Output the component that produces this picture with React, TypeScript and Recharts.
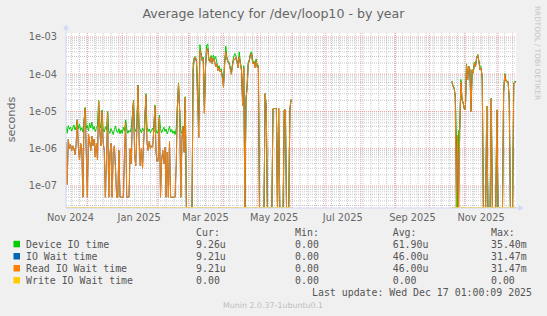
import { LineChart, Line, XAxis, YAxis, CartesianGrid } from 'recharts';

// day 0 = Tue 12 Nov 2024, the left edge of the 400 day window
const seg1Start = 0;
const seg2Start = 343;
const totalDays = 400;

// values in microseconds, one per day
const deviceIo1 = [
  4.0, 2.6, 4.2, 3.3, 3.8, 3.0, 3.6, 4.4, 3.2, 3.9,
  6.0, 3.4, 4.5, 3.1, 3.7, 2.8, 5.5, 13, 3.5, 4.2,
  3.0, 4.8, 3.6, 5.2, 3.3, 4.0, 2.9, 3.5, 4.3, 20,
  5.0, 3.6, 11, 3.4, 2.8, 3.9, 3.2, 10, 3.0, 2.6,
  3.5, 2.9, 2.4, 3.3, 4.1, 3.0, 2.7, 3.5, 2.5, 3.2,
  2.6, 3.8, 3.0, 6.0, 3.4, 2.6, 3.1, 2.8, 3.7, 8,
  20, 3.5, 2.9, 4.2, 51, 4.0, 3.2, 2.7, 3.6, 3.0,
  3.3, 30, 3.8, 2.9, 3.4, 2.7, 3.1, 3.6, 2.8, 15,
  3.3, 2.6, 3.0, 8, 3.5, 2.7, 3.2, 3.8, 2.9, 3.4,
  2.5, 3.1, 4.0, 2.8, 3.3, 2.6, 3.0, 2.4, 3.6, 14,
  57, 12, 3.2, 2.6, 4.0, 2.8, 25, 0, 0, 0,
  0, 0, 0, 200, 280, 300, 230, 51, 6, 620,
  380, 260, 290, 14, 170, 610, 650, 260, 230, 320,
  210, 330, 250, 300, 210, 140, 170, 130, 140, 90,
  57, 210, 570, 290, 230, 210, 155, 115, 190, 290,
  360, 310, 230, 170, 400, 210, 140, 20, 170, 0,
  22, 52, 210, 250, 370, 400, 210, 230, 170, 260,
  170, 175, 0, 0, 0, 0, 0, 30, 13, 0,
  0, 0, 0, 0, 12, 12, 12, 12, 0, 12,
  0, 0, 0, 0, 11, 11, 0, 0, 0, 11,
  21,
];

const readWait1 = [
  1.5, 0.11, 1.8, 1.0, 1.3, 0.9, 1.2, 1.0, 0.7, 1.3,
  6.0, 1.1, 0.5, 1.4, 1.0, 0.05, 5.0, 12, 0.8, 0.05,
  2.5, 1.6, 0.9, 2.2, 1.2, 1.8, 0.6, 1.4, 0.5, 19,
  3.0, 1.2, 10, 1.5, 0.9, 0.05, 0.6, 9, 0.05, 0.7,
  1.4, 0.05, 0.8, 1.2, 0.3, 0.05, 0.05, 0.9, 0.05, 0.05,
  0.05, 0.05, 0.8, 5.0, 0.05, 0.05, 0.05, 1.0, 0.4, 7,
  19, 0.7, 0.35, 3.5, 50, 1.5, 0.35, 1.0, 0.3, 1.4,
  5.5, 28, 1.4, 0.9, 1.6, 1.0, 1.2, 1.1, 3.2, 14,
  0.8, 0.45, 0.5, 7, 0.05, 0.5, 0.9, 0.4, 1.1, 0.05,
  0.8, 0.05, 1.6, 0.05, 0.05, 0.05, 0.05, 0.05, 0.4, 13,
  55, 11, 0.05, 1.8, 4.0, 0.8, 24, 0, 0, 0,
  0, 0, 0, 130, 270, 290, 210, 20, 2, 450,
  350, 230, 260, 9, 150, 450, 500, 240, 210, 290,
  190, 270, 230, 160, 190, 125, 150, 115, 125, 80,
  45, 190, 400, 260, 210, 190, 140, 100, 170, 260,
  240, 290, 210, 150, 300, 190, 125, 14, 150, 0,
  20, 45, 190, 230, 350, 350, 190, 210, 150, 230,
  150, 160, 0, 0, 0, 0, 0, 30, 13, 0,
  0, 0, 0, 0, 12, 12, 12, 12, 0, 12,
  0, 0, 0, 0, 11, 11, 0, 0, 0, 11,
  21,
];

const deviceIo2 = [
  66, 48, 44, 26, 2.5, 0, 3.0,
  3.5, 73, 21, 18, 12, 11, 190, 72, 165, 135,
  11, 135, 110, 210, 165, 280, 340, 230, 160, 160,
  75, 0, 0, 0, 14, 0, 0, 0, 23, 0,
  0, 0, 0, 11, 0, 0, 0, 0, 0, 33,
  105, 67, 65, 64, 21, 0, 0, 0, 57, 65,
  62,
];

const readWait2 = [
  63, 47, 42, 25, 0, 2.3, 0,
  3.5, 63, 20, 17, 12, 11, 180, 70, 160, 130,
  10, 130, 107, 200, 160, 270, 330, 220, 130, 145,
  73, 0, 0, 0, 14, 0, 0, 0, 22, 0,
  0, 0, 0, 11, 0, 0, 0, 0, 0, 32,
  100, 65, 63, 63, 20, 0, 0, 0, 55, 62,
  60,
];

const monthStarts = [19, 50, 81, 109, 140, 170, 201, 231, 262, 293, 323, 354, 384];
const labelDays = [4, 65, 124, 185, 246, 308, 369];
const monthLabels = ['Nov 2024', 'Jan 2025', 'Mar 2025', 'May 2025', 'Jul 2025', 'Sep 2025', 'Nov 2025'];
const decades = [1e-7, 1e-6, 1e-5, 1e-4, 1e-3];
const decadeLabels = ['1e-07', '1e-06', '1e-05', '1e-04', '1e-03'];

const legendNames = ['Device IO time', 'IO Wait time', 'Read IO Wait time', 'Write IO Wait time'];
const legendColors = ['#00CC00', '#0066B3', '#FF8000', '#FFCC00'];
const curValues = ['  9.26u', '  9.21u', '  9.21u', '  0.00 '];
const minValues = ['  0.00 ', '  0.00 ', '  0.00 ', '  0.00 '];
const avgValues = [' 61.90u', ' 46.00u', ' 46.00u', '  0.00 '];
const maxValues = [' 35.40m', ' 31.47m', ' 31.47m', '  0.00 '];

const Y_MIN = 2.57e-8;
const Y_MAX = 1.28e-3;
const ZERO_AT = 2.65e-8; // zero drawn on the floor of the log axis

const toSec = (us: number | null) => (us === null ? null : us === 0 ? ZERO_AT : us * 1e-6);

const rows: any[] = [];
for (let d = 0; d <= totalDays; d++) {
  let dev: number | null = null;
  let rd: number | null = null;
  if (d >= seg1Start && d - seg1Start < deviceIo1.length) {
    dev = deviceIo1[d - seg1Start];
    rd = readWait1[d - seg1Start];
  } else if (d >= seg2Start && d - seg2Start < deviceIo2.length) {
    dev = deviceIo2[d - seg2Start];
    rd = readWait2[d - seg2Start];
  }
  rows.push({
    day: d,
    device: toSec(dev),
    iowait: toSec(rd),
    read: toSec(rd),
    write: dev === null ? null : ZERO_AT,
  });
}

const weekLines: number[] = [];
for (let d = 5; d <= totalDays; d += 7) weekLines.push(d);
const minorY: number[] = [];
for (let e = -8; e <= -3; e++) {
  for (let m = 2; m <= 9; m++) {
    const v = m * Math.pow(10, e);
    if (v > Y_MIN && v < Y_MAX) minorY.push(v);
  }
}

const SANS = 'DejaVu Sans, sans-serif';
const MONO = 'DejaVu Sans Mono, monospace';
const FONT_C = '#666666';
const AXIS_C = '#CFD6F8';

const rowY = [244.3, 256.5, 268.5, 280.5];

export default function App() {
  return (
    <div style={{ position: 'absolute', left: 0, top: 0, width: 547, height: 316, background: '#F0F0F0' }}>
      <LineChart
        width={547}
        height={316}
        data={rows}
        margin={{ top: 33, right: 31, bottom: 88, left: 0 }}
      >
        <CartesianGrid
          fill="#FFFFFF"
          stroke="#C8C8C8"
          strokeDasharray="1 1"
          horizontalValues={minorY}
          verticalValues={weekLines}
        />
        <CartesianGrid
          stroke="#F0A0A0"
          strokeDasharray="1 1"
          horizontalValues={decades}
          verticalValues={monthStarts}
        />
        <XAxis
          dataKey="day"
          type="number"
          domain={[0, totalDays]}
          allowDataOverflow
          ticks={labelDays}
          tickFormatter={(v: number) => monthLabels[labelDays.indexOf(v)] ?? ''}
          tickLine={false}
          tickSize={4}
          tickMargin={2.5}
          height={20}
          axisLine={{ stroke: AXIS_C }}
          tick={{ fill: FONT_C, fontSize: 9.8, fontFamily: SANS }}
          interval={0}
        />
        <YAxis
          scale="log"
          type="number"
          domain={[Y_MIN, Y_MAX]}
          allowDataOverflow
          ticks={decades}
          tickFormatter={(v: number) => decadeLabels[decades.indexOf(v)] ?? ''}
          tickLine={false}
          tickSize={6}
          tickMargin={3}
          width={66}
          axisLine={{ stroke: AXIS_C }}
          tick={{ fill: FONT_C, fontSize: 9.8, fontFamily: SANS }}
          interval={0}
        />
        <Line dataKey="device" stroke={legendColors[0]} strokeWidth={1} dot={false} isAnimationActive={false} />
        <Line dataKey="iowait" stroke={legendColors[1]} strokeWidth={1} dot={false} isAnimationActive={false} />
        <Line dataKey="read" stroke={legendColors[2]} strokeWidth={1} dot={false} isAnimationActive={false} />
        <Line dataKey="write" stroke={legendColors[3]} strokeWidth={1} dot={false} isAnimationActive={false} />
      </LineChart>
      <svg
        width={547}
        height={316}
        style={{ position: 'absolute', left: 0, top: 0, pointerEvents: 'none' }}
      >
        <line x1={516} y1={208} x2={520} y2={208} stroke={AXIS_C} />
        <polygon points="518.5,205 523.5,208 518.5,211" fill={AXIS_C} />
        <line x1={66} y1={33} x2={66} y2={29} stroke={AXIS_C} />
        <polygon points="63,29.5 66,24.5 69,29.5" fill={AXIS_C} />
        <text x={273.5} y={17.5} textAnchor="middle" fontFamily={SANS} fontSize={12.6} fill={FONT_C}>
          Average latency for /dev/loop10 - by year
        </text>
        <text
          x={11}
          y={119.5}
          textAnchor="middle"
          dominantBaseline="central"
          fontFamily={SANS}
          fontSize={11.2}
          fill={FONT_C}
          transform="rotate(-90 11 119.5)"
        >
          seconds
        </text>
        <text
          x={537}
          y={6}
          dominantBaseline="central"
          fontFamily={SANS}
          fontSize={7.3}
          fill="#C4C4C4"
          transform="rotate(90 537 6)"
        >
          RRDTOOL / TOBI OETIKER
        </text>
        <g fontFamily={MONO} fontSize={9.9} fill="#555555" style={{ whiteSpace: 'pre' }}>
          <text x={196.1} y={232.7} dominantBaseline="central">{' Cur:'}</text>
          <text x={295.1} y={232.7} dominantBaseline="central">{' Min:'}</text>
          <text x={392.7} y={232.7} dominantBaseline="central">{' Avg:'}</text>
          <text x={491} y={232.7} dominantBaseline="central">{' Max:'}</text>
          {legendNames.map((name, i) => (
            <g key={name}>
              <rect x={13.5} y={rowY[i] - 3.5} width={6.5} height={6.5} fill={legendColors[i]} />
              <text x={26} y={rowY[i]} dominantBaseline="central">{name}</text>
              <text x={196.1} y={rowY[i]} dominantBaseline="central">{curValues[i]}</text>
              <text x={295.1} y={rowY[i]} dominantBaseline="central">{minValues[i]}</text>
              <text x={392.7} y={rowY[i]} dominantBaseline="central">{avgValues[i]}</text>
              <text x={491} y={rowY[i]} dominantBaseline="central">{maxValues[i]}</text>
            </g>
          ))}
          <text x={532} y={292.3} textAnchor="end" dominantBaseline="central">
            Last update: Wed Dec 17 01:00:09 2025
          </text>
        </g>
        <text x={273} y={305} textAnchor="middle" dominantBaseline="central" fontFamily={SANS} fontSize={7.9} fill="#BDBDBD">
          Munin 2.0.37-1ubuntu0.1
        </text>
      </svg>
    </div>
  );
}
